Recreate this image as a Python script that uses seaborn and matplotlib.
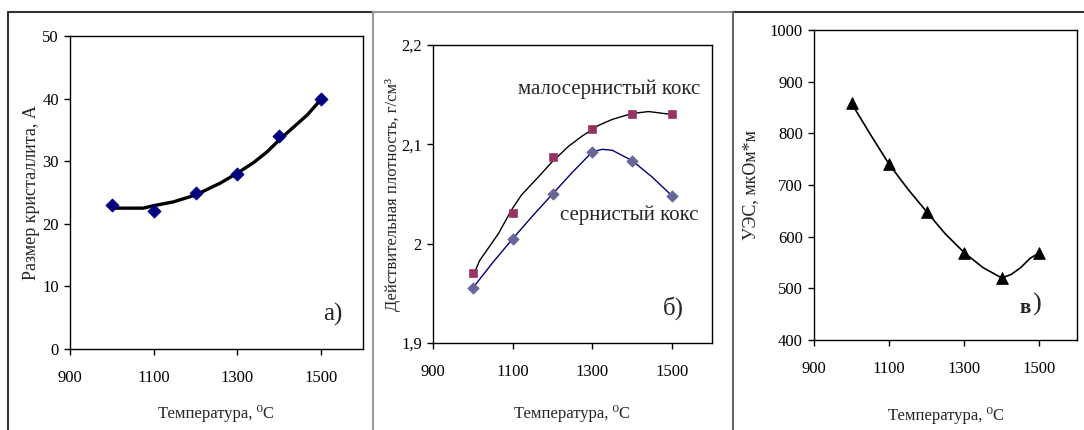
import numpy as np
import pandas as pd
import matplotlib
matplotlib.use("Agg")
import matplotlib.pyplot as plt
from matplotlib.lines import Line2D
import seaborn as sns

# --- data ---
temp = [1000, 1100, 1200, 1300, 1400, 1500]

# a) crystallite size
size_pts = [23, 22, 25, 28, 34, 40]
size_curve_t = [1000, 1075, 1100, 1147, 1200, 1259, 1300, 1339, 1371, 1400, 1435, 1467, 1500]
size_curve_v = [22.5, 22.5, 22.9, 23.5, 24.6, 26.5, 28.1, 29.8, 31.5, 33.4, 35.5, 37.4, 39.9]

# b) real density
low_s_pts = [1.970, 2.031, 2.087, 2.115, 2.131, 2.131]
low_s_curve_t = [1000, 1017, 1064, 1097, 1122, 1164, 1198, 1240, 1273, 1315, 1349, 1399, 1441, 1500]
low_s_curve_v = [1.967, 1.983, 2.010, 2.034, 2.049, 2.067, 2.082, 2.098, 2.108, 2.119, 2.125, 2.131, 2.133, 2.130]
high_s_pts = [1.9555, 2.005, 2.050, 2.0925, 2.0835, 2.048]
high_s_curve_t = [1000, 1050, 1100, 1150, 1200, 1250, 1300, 1325, 1350, 1400, 1450, 1500]
high_s_curve_v = [1.9555, 1.981, 2.005, 2.028, 2.050, 2.072, 2.0925, 2.095, 2.094, 2.0835, 2.067, 2.048]

# c) specific electrical resistance
res_pts = [858, 740, 648, 569, 520, 569]
res_curve_t = [1000, 1050, 1100, 1150, 1200, 1250, 1300, 1350, 1400, 1425, 1450, 1475, 1500]
res_curve_v = [858, 798, 740, 692, 648, 605, 569, 540, 520, 527, 540, 558, 569]

x_ticks = [900, 1100, 1300, 1500]
y1_ticks = [0, 10, 20, 30, 40, 50]
y2_ticks = [1.9, 2.0, 2.1, 2.2]
y2_labels = ["1,9", "2", "2,1", "2,2"]
y3_ticks = [400, 500, 600, 700, 800, 900, 1000]

sns.set_theme(style="ticks")
plt.rcParams["font.family"] = ["Liberation Serif", "DejaVu Serif"]
plt.rcParams["axes.edgecolor"] = "black"
plt.rcParams["axes.linewidth"] = 1.0

W, H = 1084, 430
fig = plt.figure(figsize=(W / 100, H / 100), dpi=100)
fig.patch.set_facecolor("white")


def box(l, r, t, b):
    return [l / W, 1 - b / H, (r - l) / W, (b - t) / H]


ax1 = fig.add_axes(box(70, 363, 36, 349))
ax2 = fig.add_axes(box(433, 712, 45, 343))
ax3 = fig.add_axes(box(814, 1077, 30, 340))

# a)
sns.lineplot(x=size_curve_t, y=size_curve_v, ax=ax1, color="black", lw=2.4,
             sort=False, estimator=None)
sns.scatterplot(x=temp, y=size_pts, ax=ax1, marker="D", s=45, color="#000080",
                edgecolor="#000080", zorder=3)
ax1.set_ylim(0, 50)
ax1.set_yticks(y1_ticks)
ax1.set_ylabel("Размер кристаллита, А", fontsize=13, labelpad=1.5)
ax1.text(1550, 5.5, "а)", fontsize=18, ha="right", va="center")

# b)
sns.lineplot(x=low_s_curve_t, y=low_s_curve_v, ax=ax2, color="black", lw=1.0,
             sort=False, estimator=None)
sns.scatterplot(x=temp, y=low_s_pts, ax=ax2, marker="s", s=36, color="#993366",
                edgecolor="#993366", zorder=3)
sns.lineplot(x=high_s_curve_t, y=high_s_curve_v, ax=ax2, color="#000080", lw=1.0,
             sort=False, estimator=None)
sns.scatterplot(x=temp, y=high_s_pts, ax=ax2, marker="D", s=34, color="#666699",
                edgecolor="#666699", zorder=3)
ax2.set_ylim(1.9, 2.2)
ax2.set_yticks(y2_ticks)
ax2.set_yticklabels(y2_labels)
ax2.set_ylabel("Действительная плотность, г/см³", fontsize=12, labelpad=0)
ax2.text(1570, 2.155, "малосернистый кокс", fontsize=15, ha="right", va="center")
ax2.text(1565, 2.029, "сернистый кокс", fontsize=15, ha="right", va="center")
ax2.text(1530, 1.935, "б)", fontsize=18, ha="right", va="center")

# c)
sns.lineplot(x=res_curve_t, y=res_curve_v, ax=ax3, color="black", lw=1.2,
             sort=False, estimator=None)
sns.scatterplot(x=temp, y=res_pts, ax=ax3, marker="^", s=70, color="black",
                edgecolor="black", zorder=3)
ax3.set_ylim(400, 1000)
ax3.set_yticks(y3_ticks)
ax3.set_ylabel("УЭС, мкОм*м", fontsize=13, labelpad=7.5)
ax3.text(1478, 462, "в", fontsize=15, fontweight="bold", ha="right", va="center")
ax3.text(1480, 469, ")", fontsize=19, ha="left", va="center")

for ax, lp in ((ax1, 14), (ax2, 18), (ax3, 22)):
    ax.set_xlim(900, 1600)
    ax.set_xticks(x_ticks)
    ax.set_xlabel("Температура, ⁰С", fontsize=12, labelpad=lp)
    ax.tick_params(direction="out", length=4, width=1, labelsize=12, pad=11,
                   colors="black")
    ax.tick_params(axis="y", pad=4)
    for sp in ax.spines.values():
        sp.set_visible(True)
        sp.set_linewidth(1.0)
        sp.set_color("black")
    ax.grid(False)
    ax.set_facecolor("white")

# panel borders
def fline(x0, y0, x1, y1, color):
    fig.add_artist(Line2D([x0 / W, x1 / W], [1 - y0 / H, 1 - y1 / H],
                          color=color, lw=1.5, transform=fig.transFigure))

fline(8, 12, 373, 12, "#333333")
fline(373, 12, 733, 12, "#999999")
fline(733, 12, 1084, 12, "#333333")
fline(8, 12, 8, 430, "#333333")
fline(373, 12, 373, 430, "#999999")
fline(733, 12, 733, 430, "#666666")

fig.savefig("out.png", dpi=100)
